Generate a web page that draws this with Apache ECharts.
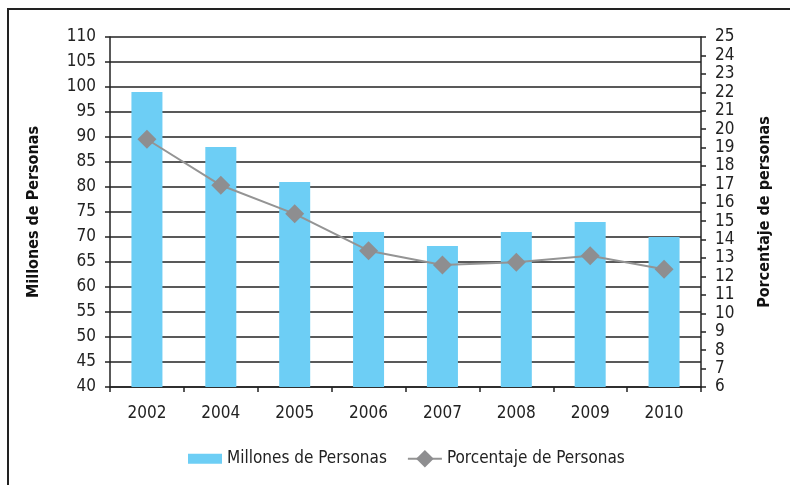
<!DOCTYPE html>
<html>
<head>
<meta charset="utf-8">
<script src="https://cdn.jsdelivr.net/npm/echarts@6/dist/echarts.min.js"></script>
<style>
  html, body { margin: 0; padding: 0; background: #fff; }
  #frame {
    position: absolute; left: 7px; top: 8px; width: 790px; height: 485px;
    border-top: 2px solid #222; border-left: 2px solid #222;
  }
  #chart { position: absolute; left: 0; top: 0; width: 790px; height: 485px; }
</style>
</head>
<body>
<div id="frame"></div>
<div id="chart"></div>
<script>
  // datos
  const years = ['2002', '2004', '2005', '2006', '2007', '2008', '2009', '2010'];
  const millones = [99, 88, 81, 71, 68.2, 71, 73, 70];
  const porcentaje = [19.45, 16.95, 15.4, 13.4, 12.62, 12.77, 13.13, 12.39];

  const font = '"Liberation Sans Narrow", "DejaVu Sans Condensed", sans-serif';
  const chart = echarts.init(document.getElementById('chart'));

  const option = {
    animation: false,
    textStyle: { fontFamily: font },
    grid: { left: 110, right: 89, top: 37, bottom: 98 },
    legend: {
      left: 183,
      top: 445,
      itemGap: 20,
      itemWidth: 34,
      itemHeight: 22,
      textStyle: { fontFamily: font, fontSize: 17, color: '#222' },
      data: [
        { name: 'Millones de Personas', icon: 'path://M0,0H34V10H0Z' },
        { name: 'Porcentaje de Personas' }
      ]
    },
    xAxis: {
      type: 'category',
      data: years,
      axisLine: { lineStyle: { color: '#222', width: 1.5 } },
      axisTick: { show: true, length: 5, lineStyle: { color: '#222', width: 1.5 } },
      axisLabel: { color: '#222', fontSize: 17, margin: 18, fontFamily: font }
    },
    yAxis: [
      {
        type: 'value',
        min: 40, max: 110, interval: 5,
        name: 'Millones de Personas',
        nameLocation: 'middle',
        nameGap: 68,
        nameRotate: 90,
        nameTextStyle: { fontWeight: 'bold', fontSize: 16, color: '#111', fontFamily: font },
        axisLine: { show: true, lineStyle: { color: '#222', width: 1.5 } },
        axisTick: { show: true, length: 5, lineStyle: { color: '#222', width: 1.5 } },
        axisLabel: { color: '#222', fontSize: 17, margin: 14, fontFamily: font },
        splitLine: { lineStyle: { color: '#222', width: 1.5 } }
      },
      {
        type: 'value',
        min: 6, max: 25, interval: 1,
        name: 'Porcentaje de personas',
        nameLocation: 'middle',
        nameGap: 56,
        nameRotate: 90,
        nameTextStyle: { fontWeight: 'bold', fontSize: 16, color: '#111', fontFamily: font },
        axisLine: { show: true, lineStyle: { color: '#222', width: 1.5 } },
        axisTick: { show: true, length: 5, lineStyle: { color: '#222', width: 1.5 } },
        axisLabel: { color: '#222', fontSize: 17, margin: 14, fontFamily: font },
        splitLine: { show: false }
      }
    ],
    series: [
      {
        name: 'Millones de Personas',
        type: 'bar',
        yAxisIndex: 0,
        barWidth: 31,
        itemStyle: { color: '#6dcef5' },
        data: millones
      },
      {
        name: 'Porcentaje de Personas',
        type: 'line',
        yAxisIndex: 1,
        symbol: 'diamond',
        symbolSize: 19,
        lineStyle: { color: '#949494', width: 2 },
        itemStyle: { color: '#8e8e90' },
        data: porcentaje
      }
    ]
  };

  chart.setOption(option);
</script>
</body>
</html>
